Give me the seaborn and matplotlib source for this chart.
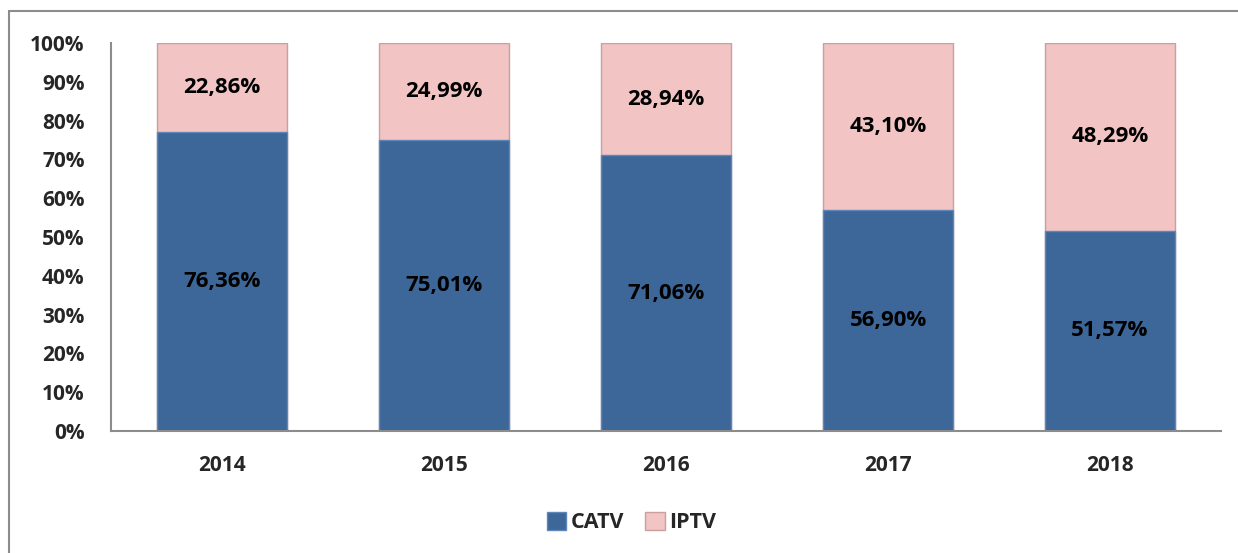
import numpy as np
import pandas as pd
import matplotlib.pyplot as plt
import seaborn as sns
from matplotlib.patches import Rectangle, Patch

# Datos
anios = ["2014", "2015", "2016", "2017", "2018"]
catv = [76.36, 75.01, 71.06, 56.90, 51.57]
iptv = [22.86, 24.99, 28.94, 43.10, 48.29]
etiquetas_catv = ["76,36%", "75,01%", "71,06%", "56,90%", "51,57%"]
etiquetas_iptv = ["22,86%", "24,99%", "28,94%", "43,10%", "48,29%"]

color_catv = "#3D6699"
color_iptv = "#F2C4C4"

# Barras apiladas al 100%
total = np.array(catv) + np.array(iptv)
df = pd.DataFrame({
    "Anio": anios,
    "CATV": np.array(catv) / total * 100,
    "Total": total / total * 100,
})

sns.set_style("white")
plt.rcParams["font.family"] = ["Open Sans", "DejaVu Sans"]
plt.rcParams["font.weight"] = "bold"

fig = plt.figure(figsize=(12.38, 5.53), dpi=100)
ax = fig.add_axes([0.0897, 0.2206, 0.8966, 0.7016])

sns.barplot(data=df, x="Anio", y="Total", color=color_iptv, width=0.585,
            saturation=1, edgecolor="#C9A0A0", linewidth=1, ax=ax)
sns.barplot(data=df, x="Anio", y="CATV", color=color_catv, width=0.585,
            saturation=1, edgecolor="#5F86B8", linewidth=1, ax=ax)

# Etiquetas de datos
for i in range(len(anios)):
    b = df["CATV"][i]
    ax.text(i, b / 2, etiquetas_catv[i], ha="center", va="center",
            fontsize=16, fontweight="bold", color="black")
    ax.text(i, b + (100 - b) / 2, etiquetas_iptv[i], ha="center", va="center",
            fontsize=16, fontweight="bold", color="black")

ax.set_ylim(0, 100)
ax.set_xlim(-0.5, 4.5)
ax.set_yticks(range(0, 101, 10))
ax.set_yticklabels([f"{v}%" for v in range(0, 101, 10)])
ax.tick_params(axis="both", labelsize=15, length=0)
ax.tick_params(axis="y", pad=19)
ax.tick_params(axis="x", pad=17)
for lab in ax.get_xticklabels() + ax.get_yticklabels():
    lab.set_fontweight("bold")
ax.set_xlabel("")
ax.set_ylabel("")

sns.despine(ax=ax, top=True, right=True)
ax.spines["left"].set_color("#8C8C8C")
ax.spines["bottom"].set_color("#8C8C8C")
ax.spines["left"].set_linewidth(1.5)
ax.spines["bottom"].set_linewidth(1.5)

# Leyenda
handles = [Patch(facecolor=color_catv, edgecolor="#5F86B8", label="CATV"),
           Patch(facecolor=color_iptv, edgecolor="#C9A0A0", label="IPTV")]
fig.legend(handles=handles, loc="center", bbox_to_anchor=(0.51, 0.055), ncol=2,
           frameon=False, prop={"size": 15.5, "weight": "bold"},
           handlelength=0.9, handleheight=0.9, handletextpad=0.2, columnspacing=1.0)

# Borde exterior
fig.patches.append(Rectangle((8.5 / 1238, -0.1), 1.2, 1.1 - 11.5 / 553,
                             transform=fig.transFigure, fill=False,
                             edgecolor="#8C8C8C", linewidth=1.5))

fig.savefig("out.png", dpi=100)
